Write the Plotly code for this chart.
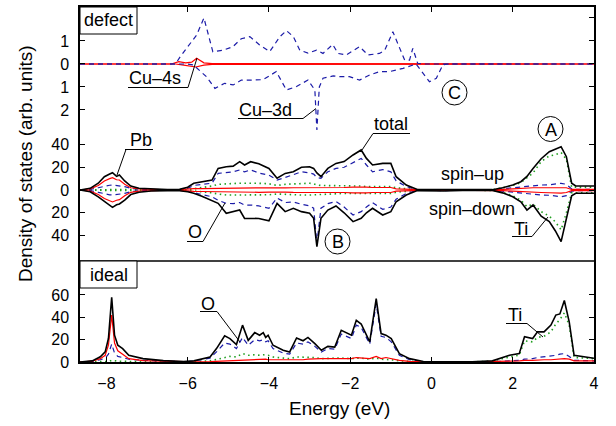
import plotly.graph_objects as go

# ---------------- data ----------------
# top panel (defect, Cu projected DOS)
E_cu3d_up = [-8.65, -6.3, -6.19, -5.99, -5.78, -5.6, -5.38, -5.13, -4.89, -4.68, -4.47, -4.23, -3.98,
             -3.73, -3.57, -3.4, -3.24, -3.04, -2.83, -2.67, -2.43, -2.3, -2.1, -1.77, -1.56, -1.28,
             -1.15, -0.95, -0.83, -0.66, -0.54, -0.46, -0.34, -0.2, 4.0]
cu3d_up = [0, 0, 0.3, 0.75, 1.26, 2.0, 0.53, 0.6, 0.75, 1.1, 1.19, 0.83, 0.54,
           1.19, 1.45, 1.19, 0.6, 0.47, 0.6, 0.46, 0.85, 0.46, 0.39, 0.75, 0.39, 0.46,
           0.6, 1.4, 0.9, 0.17, 0.17, 0.68, 0.03, 0, 0]
E_cu3d_dn = [-8.65, -6.0, -5.86, -5.54, -5.33, -5.09, -4.88, -4.68, -4.43, -4.14, -3.82, -3.57, -3.32,
             -3.04, -2.87, -2.82, -2.76, -2.67, -2.42, -2.26, -2.02, -1.77, -1.52, -1.28, -1.03, -0.7,
             -0.38, -0.21, -0.05, 0.12, 0.28, 0.4, 4.0]
cu3d_dn = [0, 0, 0.04, 0.55, 1.06, 0.84, 0.91, 0.7, 0.7, 0.68, 0.33, 1.13, 0.98,
           0.7, 1.13, 2.87, 1.0, 0.62, 0.52, 0.55, 0.55, 0.7, 0.48, 0.33, 0.33, 0.19,
           0.0, 0.4, 0.77, 0.62, 0.04, 0, 0]
E_cu4s_up = [-8.65, -6.4, -6.22, -6.05, -5.9, -5.78, -5.6, -5.4, 4.0]
cu4s_up = [0, 0, 0.1, 0.05, 0.08, 0.25, 0.05, 0.02, 0]
E_cu4s_dn = [-8.65, -6.3, -6.1, -5.8, -5.6, -5.4, 4.0]
cu4s_dn = [0, 0, 0.05, 0.13, 0.05, 0.02, 0]

# middle panel (defect, total and projected, spin up / spin down)
E_mid = [-8.65, -8.4, -8.2, -8.05, -7.92, -7.85, -7.75, -7.68, -7.55, -7.4,
         -7.2, -6.9, -6.5, -6.2, -6.0, -5.85, -5.65, -5.4, -5.25, -5.05,
         -4.88, -4.72, -4.6, -4.45, -4.25, -4.0, -3.8, -3.6, -3.4, -3.2,
         -3.0, -2.9, -2.82, -2.72, -2.55, -2.35, -2.15, -1.93, -1.73, -1.6,
         -1.45, -1.2, -1.0, -0.87, -0.62, -0.35, -0.1, 0.3, 1.0, 1.5,
         1.75, 2.0, 2.2, 2.35, 2.5, 2.7, 2.9, 3.05, 3.19, 3.32,
         3.45, 3.55, 4.0]
tot_up = [0, 1.5, 6, 11.7, 14, 15.2, 12, 13.2, 8, 3.5,
          1.5, 0.8, 0.3, 0.6, 2.5, 5.9, 7, 8.8, 19, 20.5,
          21, 24.9, 22, 24.9, 23, 19, 10.3, 14.6, 16.1, 20,
          20.5, 19, 15, 11.7, 19, 23.4, 25, 30.8, 35.2, 27.8,
          22, 23.4, 23.4, 11.7, 4.4, 0.5, 0.3, 0.2, 0.1, 0.3,
          2, 4.4, 7.3, 12, 19, 27.5, 33.7, 36, 38.1, 29.3,
          6, 3.5, 3.5]
tot_dn = [0, 1.5, 6, 10.3, 13.5, 15.2, 13, 12.3, 8.8, 4,
          2, 0.9, 0.5, 0.6, 1.5, 2.9, 5.5, 9, 11.7, 20.5,
          19, 17.6, 24.9, 24.9, 25, 27, 11.7, 19, 16.1, 19,
          20.5, 24.9, 49.8, 24.9, 17.6, 14, 20, 27.8, 24.9, 20,
          16.1, 22, 19, 10.3, 4.4, 0.5, 0.9, 0.9, 0.2, 0.3,
          2.5, 5.9, 10.3, 17.6, 13.2, 23, 27.8, 36, 45.4, 25,
          5, 2.9, 2.9]
O_up = [0, 0.5, 2, 3.5, 4.2, 4.4, 4, 4, 3, 1.5,
        0.7, 0.3, 0.2, 0.4, 1.5, 4, 5, 6, 14.6, 15,
        16, 17.6, 16, 17.6, 15, 13, 8.8, 11, 13.2, 16,
        15, 14, 11, 10.3, 16, 19, 20, 24, 27.8, 22,
        16, 18, 16, 8, 3, 0.3, 0.2, 0.1, 0.1, 0.2,
        1, 2, 3, 3.5, 4, 4.4, 4.6, 5, 5.9, 5,
        1, 0.5, 0.5]
O_dn = [0, 0.5, 2, 3.5, 4.2, 4.4, 4, 4, 3, 1.5,
        0.7, 0.3, 0.2, 0.4, 1, 2, 4, 6, 9, 11.7,
        12, 11, 13.2, 13.2, 14, 16, 7, 11, 10.5, 12.5,
        14, 16, 47, 16, 12, 10, 15, 22, 19, 15,
        11, 17, 15, 8, 3, 0.3, 0.5, 0.5, 0.1, 0.2,
        1, 2, 3, 3.5, 4, 4.4, 4.6, 5, 5.9, 5,
        1, 0.5, 0.5]
Ti_up = [0, 0.1, 0.3, 0.5, 0.7, 0.8, 0.7, 0.7, 0.5, 0.3,
         0.2, 0.1, 0.1, 0.1, 0.3, 1, 2, 3.5, 5, 5.5,
         5.9, 6, 5.9, 6, 5.9, 5.5, 4, 5, 5.5, 6,
         6, 5.5, 4.5, 4, 4, 3.5, 3.5, 3.5, 3.5, 3,
         3, 3, 3, 2, 1, 0.2, 0.1, 0.1, 0.1, 0.3,
         1.8, 4, 6.5, 11, 15, 25, 30, 31, 33, 27,
         2.5, 2.5, 2.5]
Ti_dn = [0, 0.1, 0.3, 0.5, 0.7, 0.8, 0.7, 0.7, 0.5, 0.3,
         0.2, 0.1, 0.1, 0.1, 0.3, 0.8, 1.5, 2.5, 3.5, 4.4,
         4.4, 4.4, 4.6, 4.4, 4.4, 4.2, 3.5, 4, 4, 4.4,
         4.4, 4.2, 4, 3.5, 3.5, 3, 3, 3, 3, 3,
         3, 3, 3, 2, 1, 0.2, 0.1, 0.1, 0.1, 0.3,
         2, 5, 9, 14.6, 12.5, 19, 23, 28, 35, 20,
         2.5, 2.5, 2.5]
Pb_up = [0, 1, 4, 8, 10, 10.8, 9, 8.8, 5, 2,
         1, 0.5, 0.2, 0.4, 1, 1.2, 1.3, 1.5, 1.8, 2,
         2, 2.2, 2, 2.2, 2, 1.8, 1.5, 1.8, 2, 2,
         2, 2, 1.8, 1.8, 2, 2.2, 2.2, 2.5, 2.8, 2.5,
         2.2, 2.5, 2.2, 1, 0.5, 0.1, 0.1, 0.1, 0.1, 0.1,
         0.5, 1, 1.5, 1.8, 2, 2, 2.2, 2.3, 2.5, 2,
         0.5, 0.5, 0.5]
Pb_dn = [0, 1, 4, 7.5, 9.5, 10.5, 9, 8.5, 5, 2,
         1, 0.5, 0.2, 0.4, 1, 1.2, 1.3, 1.5, 1.8, 2,
         2, 2.2, 2, 2.2, 2, 1.8, 1.5, 1.8, 2, 2,
         2, 2, 1.8, 1.8, 2, 2.2, 2.2, 2.5, 2.8, 2.5,
         2.2, 2.5, 2.2, 1, 0.5, 0.1, 0.1, 0.1, 0.1, 0.1,
         0.5, 1, 1.5, 1.8, 2, 2.2, 2.4, 2.5, 2.8, 2.2,
         0.5, 0.5, 0.5]

# bottom panel (ideal)
E_ideal = [-8.65, -8.35, -8.15, -8.03, -7.95, -7.87, -7.8, -7.72, -7.6, -7.45,
           -7.1, -6.6, -6.1, -5.85, -5.45, -5.29, -5.09, -4.96, -4.8, -4.65,
           -4.51, -4.35, -4.23, -4.14, -4.08, -4.02, -3.9, -3.65, -3.49, -3.32,
           -3.16, -3.04, -2.87, -2.71, -2.55, -2.38, -2.22, -1.97, -1.85, -1.73,
           -1.52, -1.36, -1.24, -1.12, -0.99, -0.79, -0.54, -0.2, 1.0, 1.5,
           1.92, 2.16, 2.29, 2.49, 2.61, 2.77, 2.94, 3.06, 3.16, 3.27,
           3.39, 3.51, 4.0]
id_tot = [0, 1, 4.7, 9, 21, 58, 24, 15, 12, 6,
          3, 1.2, 0.3, 1, 4.5, 12, 23.4, 21, 15.6, 33,
          19.4, 26.3, 24, 26.3, 22, 24, 15, 10.5, 9, 21.5,
          19, 22, 16.4, 10.5, 14, 13.4, 28.4, 24, 37.3, 34,
          18, 56.7, 25.4, 24, 21, 7.5, 3, 0.5, 0.2, 1,
          6, 7.5, 22.7, 21, 27, 27, 33, 42, 43, 55,
          36, 6, 3.3]
id_O = [0, 0.5, 2, 3.5, 7, 16, 8, 5, 4, 2.5,
        1.5, 0.6, 0.2, 0.8, 3.5, 9, 17, 16, 12, 22,
        15, 20, 19, 20, 18, 19, 12, 8, 7, 17,
        16, 18, 14, 9, 12, 11.5, 25, 21, 33, 31,
        16, 52, 23, 22, 18, 6, 2, 0.3, 0.1, 0.3,
        1, 1.5, 2.5, 3, 4, 4.5, 5, 6, 7, 7.5,
        5, 1.5, 1]
id_Ti = [0, 0.1, 0.2, 0.3, 0.5, 1.5, 1, 0.8, 0.6, 0.4,
         0.3, 0.2, 0.1, 0.2, 1, 2.5, 4, 5, 4.5, 7.5,
         6, 6.5, 6, 6.5, 6, 6, 4.5, 3.5, 3, 4.5,
         4.5, 4.5, 4, 3, 3.5, 3.5, 3.5, 3, 3.5, 3.5,
         2.5, 3.5, 2.5, 2.5, 2, 1, 0.5, 0.1, 0.1, 0.8,
         4.5, 6, 19, 18, 22, 23, 27, 34, 38, 44,
         33, 4, 3]
id_Pb = [0, 0.7, 3, 6, 15, 42, 17, 10, 7, 3,
         1.2, 0.5, 0.1, 0.1, 0.3, 0.6, 1, 1.2, 1, 1.3,
         1.5, 2, 2, 2.5, 2.5, 2, 2, 2, 1.5, 2,
         2, 2.5, 3, 3, 3, 3, 3.5, 3, 4, 3.5,
         3, 5, 3, 4, 3, 1.5, 0.5, 0.1, 0.1, 0.2,
         0.8, 1, 1.5, 1.5, 2, 2, 2, 2.5, 2.5, 3,
         2.5, 1, 1]

x_ticks = [-8, -6, -4, -2, 0, 2, 4]
top_ticks = [2, 1, 0, -1, -2]
top_ticktext = ["", "1", "0", "1", "2"]
mid_ticks = [40, 20, 0, -20, -40]
mid_ticktext = ["40", "20", "0", "20", "40"]
bot_ticks = [0, 20, 40, 60]
bot_ticktext = ["0", "20", "40", "60"]

# ---------------- style ----------------
FONT = "Liberation Sans, Arial, Helvetica, sans-serif"
BLACK = "#000000"
BLUE = "#1c1ca8"
GREEN = "#1f9e1f"
RED = "#ff0000"
DASH = "5px,4px"
DOT = "1.5px,3.5px"

W, H = 616, 426
L, R, T, B = 80, 22, 7, 64
PW, PH = W - L - R, H - T - B


def px(x):
    return (x - L) / PW


def py(y):
    return (H - B - y) / PH


neg = lambda a: [-v for v in a]

fig = go.Figure()


def add(x, y, color, dash=None, width=1.3, ax="", name=""):
    fig.add_trace(go.Scatter(x=x, y=y, mode="lines", name=name,
                             line=dict(color=color, width=width, dash=dash),
                             xaxis="x" + ax, yaxis="y" + ax, hoverinfo="skip",
                             showlegend=False))


# top panel
add(E_cu4s_up, cu4s_up, RED, None, 1.2, "3")
add(E_cu4s_dn, neg(cu4s_dn), RED, None, 1.2, "3")
add(E_cu3d_up, cu3d_up, BLUE, DASH, 1.2, "3")
add(E_cu3d_dn, neg(cu3d_dn), BLUE, DASH, 1.2, "3")

# middle panel
add(E_mid, Ti_up, GREEN, DOT, 1.6, "2")
add(E_mid, neg(Ti_dn), GREEN, DOT, 1.6, "2")
add(E_mid, O_up, BLUE, DASH, 1.2, "2")
add(E_mid, neg(O_dn), BLUE, DASH, 1.2, "2")
add(E_mid, Pb_up, RED, None, 1.2, "2")
add(E_mid, neg(Pb_dn), RED, None, 1.2, "2")
add(E_mid, tot_up, BLACK, None, 1.6, "2")
add(E_mid, neg(tot_dn), BLACK, None, 1.6, "2")

# bottom panel
add(E_ideal, id_Ti, GREEN, DOT, 1.6, "")
add(E_ideal, id_O, BLUE, DASH, 1.2, "")
add(E_ideal, id_Pb, RED, None, 1.2, "")
add(E_ideal, id_tot, BLACK, None, 1.6, "")

d_bot = [0, py(261)]
d_mid = [py(261), py(132)]
d_top = [py(132), 1]

xr = [-8.65, 4]
tickfont = dict(family=FONT, size=16, color="black")
common_y = dict(showline=True, linecolor=BLACK, linewidth=1.5, mirror="ticks",
                ticks="inside", ticklen=5, tickcolor=BLACK, tickwidth=1,
                showgrid=False, zeroline=False, tickfont=tickfont,
                ticklabelstandoff=6, tickmode="array")

fig.update_layout(
    width=W, height=H,
    margin=dict(l=L, r=R, t=T, b=B, pad=0),
    paper_bgcolor="white", plot_bgcolor="white",
    font=dict(family=FONT, size=16, color="black"),
    xaxis=dict(domain=[0, 1], range=xr, anchor="y", showline=True, linecolor=BLACK,
               linewidth=1.5, ticks="inside", ticklen=5, tickcolor=BLACK,
               tickmode="array", tickvals=x_ticks, showgrid=False, zeroline=False,
               tickfont=tickfont, ticklabelstandoff=6),
    xaxis2=dict(domain=[0, 1], range=xr, anchor="y2", matches="x", visible=False),
    xaxis3=dict(domain=[0, 1], range=xr, anchor="y3", matches="x", side="top",
                showline=True, linecolor=BLACK, linewidth=1.5, ticks="inside",
                ticklen=5, tickcolor=BLACK, tickmode="array", tickvals=x_ticks,
                showticklabels=False, showgrid=False, zeroline=False),
    yaxis=dict(domain=d_bot, range=[0, 90.4], anchor="x", tickvals=bot_ticks,
               ticktext=bot_ticktext, **common_y),
    yaxis2=dict(domain=d_mid, range=[-62.4, 51.0], anchor="x2", tickvals=mid_ticks,
                ticktext=mid_ticktext, **common_y),
    yaxis3=dict(domain=d_top, range=[-2.957, 2.478], anchor="x3", tickvals=top_ticks,
                ticktext=top_ticktext, **common_y),
)

shapes = []
ann = []


def line(x0, y0, x1, y1, w=1.0):
    shapes.append(dict(type="line", xref="paper", yref="paper",
                       x0=px(x0), y0=py(y0), x1=px(x1), y1=py(y1),
                       line=dict(color=BLACK, width=w), layer="above"))


def text(s, x, y, size=18):
    ann.append(dict(text=s, x=px(x), y=py(y), xref="paper", yref="paper",
                    showarrow=False, xanchor="center", yanchor="middle",
                    font=dict(family=FONT, size=size, color="black")))


def circle(s, cx, cy, r=12.5):
    shapes.append(dict(type="circle", xref="paper", yref="paper",
                       x0=px(cx - r), x1=px(cx + r), y0=py(cy + r), y1=py(cy - r),
                       line=dict(color=BLACK, width=1.0), layer="above"))
    text(s, cx, cy + 0.5, 18)


def box(s, x0, y0, x1, y1):
    shapes.append(dict(type="rect", xref="paper", yref="paper",
                       x0=px(x0), x1=px(x1), y0=py(y1), y1=py(y0),
                       line=dict(color=BLACK, width=1.0), fillcolor="white",
                       layer="above"))
    text(s, (x0 + x1) / 2, (y0 + y1) / 2, 18)


# divider between defect and ideal
line(80, 261, 594, 261, 1.5)

box("defect", 80, 7, 137, 34)
box("ideal", 80, 261, 137, 288)

text("Cu–4s", 155, 78)
line(128, 87.5, 188, 87.5); line(188, 87.5, 197, 58)
text("Cu–3d", 265, 110)
line(238, 118.5, 303, 118.5); line(303, 118.5, 316, 108.5)
text("total", 391, 124)
line(373, 133.5, 410, 133.5); line(373, 133.5, 362, 150)
text("Pb", 141, 140)
line(125, 149.5, 153, 149.5); line(126, 149.5, 117, 175)
text("O", 195, 232)
line(187, 241.5, 203, 241.5); line(203, 241.5, 225, 203)
text("spin–up", 472, 174)
text("spin–down", 472, 209)
text("Ti", 521, 228.5)
line(512, 236.5, 532, 236.5); line(532, 236.5, 548, 217)
text("O", 208, 303.5)
line(200, 311.5, 217, 311.5); line(217, 311.5, 240, 342)
text("Ti", 515, 315)
line(506, 323.5, 527, 323.5); line(527, 323.5, 543, 337)

circle("A", 550.5, 129)
circle("B", 337.5, 241.5)
circle("C", 454.5, 92.5)

text("Energy (eV)", 339, 408, 19)
ann.append(dict(text="Density of states (arb. units)", x=px(25), y=py(164),
                xref="paper", yref="paper", showarrow=False, textangle=-90,
                xanchor="center", yanchor="middle",
                font=dict(family=FONT, size=19, color="black")))

fig.update_layout(shapes=shapes, annotations=ann)
fig.write_html("out.html", config={"displayModeBar": False})
